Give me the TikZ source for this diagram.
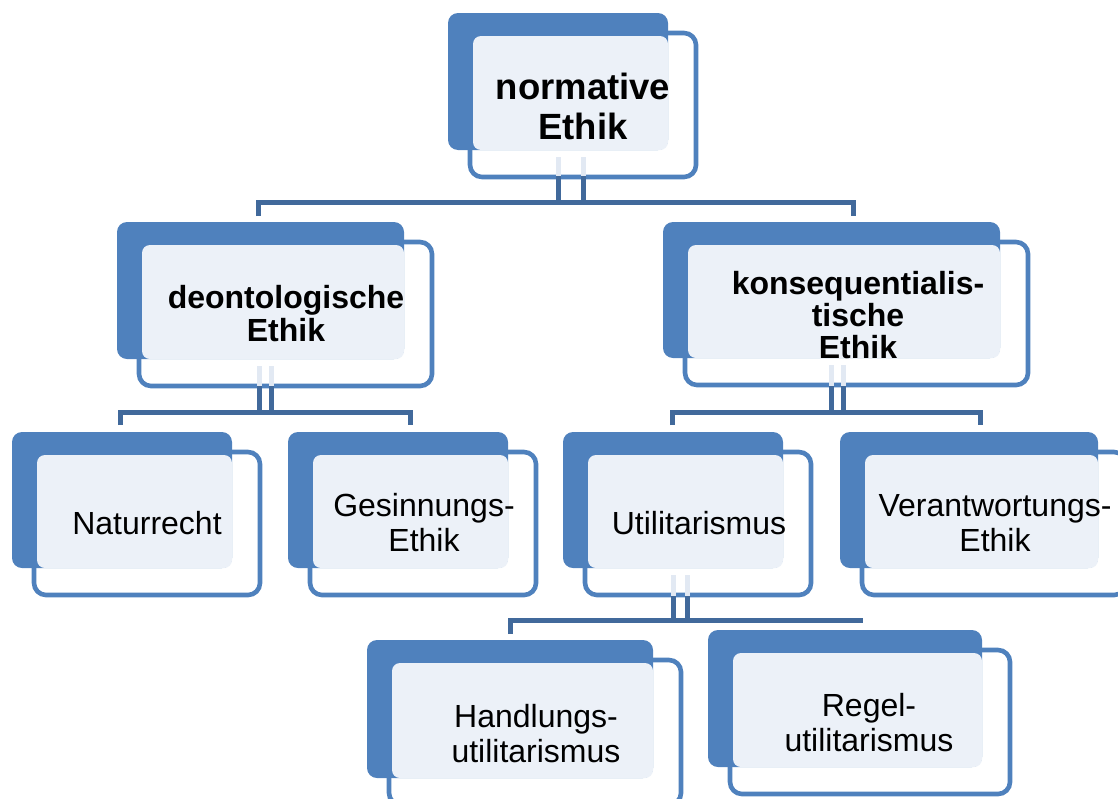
\documentclass[tikz,border=0pt]{standalone}
\usepackage{fontspec}
\setmainfont{Liberation Sans}
\usetikzlibrary{fit}
\definecolor{bb}{HTML}{4F81BD}
\definecolor{lf}{HTML}{ECF1F8}
\definecolor{cc}{HTML}{41699B}
\definecolor{fc}{HTML}{E2E9F3}
\tikzset{
  backbox/.style={fill=bb, draw=none, rounded corners=10pt, inner sep=0pt, outer sep=0pt},
  frontbox/.style={fill=white, draw=bb, line width=4.6pt, rounded corners=12pt, inner sep=0pt, outer sep=0pt},
  lightbox/.style={fill=lf, draw=none, rounded corners=8pt, inner sep=0pt, outer sep=0pt},
  conn/.style={draw=cc, line width=5pt},
  faint/.style={draw=fc, line width=5pt},
  boldtxt/.style={align=center, font=\bfseries\fontsize{32}{33}\selectfont, inner sep=0pt},
  regtxt/.style={align=center, font=\fontsize{32}{35}\selectfont, inner sep=0pt},
}
\newcommand\ebox[5]{%
  \node[frontbox, fit={(#2+22,#3+20) (#4+28,#5+27)}] (#1f) {};
  \node[backbox, fit={(#2,#3) (#4,#5)}] (#1b) {};
  \node[lightbox, fit={(#2+25,#3+23) (#4,#5)}] (#1l) {};
}
\begin{document}
\begin{tikzpicture}[x=1pt, y=-1pt]
\useasboundingbox (0,0) rectangle (1118,798);
% boxes
\ebox{n0}{448}{13}{668}{150}
\ebox{d}{117}{222}{404}{359}
\ebox{k}{663}{222}{1000}{358}
\ebox{nr}{12}{432}{232}{568}
\ebox{ge}{288}{432}{508}{568}
\ebox{ut}{563}{432}{783}{568}
\ebox{ve}{840}{432}{1098}{568}
\ebox{ha}{367}{640}{653}{778}
\ebox{re}{708}{630}{982}{767}
% texts
\node[boldtxt, font=\bfseries\fontsize{36.5}{40}\selectfont] (n0) at (583,106) {normative\\Ethik};
\node[boldtxt] (d) at (286,314) {deontologische\\Ethik};
\node[boldtxt, font=\bfseries\fontsize{32}{32}\selectfont] (k) at (858,315) {konsequentialis-\\tische\\Ethik};
\node[regtxt] (nr) at (147,523) {Naturrecht};
\node[regtxt] (ge) at (424,523) {Gesinnungs-\\Ethik};
\node[regtxt] (ut) at (699,523) {Utilitarismus};
\node[regtxt] (ve) at (995,523) {Verantwortungs-\\Ethik};
\node[regtxt] (ha) at (536,734) {Handlungs-\\utilitarismus};
\node[regtxt] (re) at (869,723) {Regel-\\utilitarismus};
% connector junctions
\coordinate (n0a) at (558,176); \coordinate (n0c) at (583,176);
\coordinate (da) at (259,386); \coordinate (dc) at (271,386);
\coordinate (ka) at (831,386); \coordinate (kc) at (843,386);
\coordinate (uta) at (673,596); \coordinate (utc) at (687,596);
\coordinate (din) at (258,216); \coordinate (kin) at (853,216);
\coordinate (nrin) at (120,425); \coordinate (gein) at (410,425);
\coordinate (utin) at (672,425); \coordinate (vein) at (980,425);
\coordinate (hain) at (510,634); \coordinate (rein) at (860,623);
% faint parts inside front boxes
\draw[faint] (558,157) -- (n0a) (583,157) -- (n0c);
\draw[faint] (259,366) -- (da) (271,366) -- (dc);
\draw[faint] (831,365) -- (ka) (843,365) -- (kc);
\draw[faint] (673,575) -- (uta) (687,575) -- (utc);
% connectors
\draw[conn] (n0a) -- (558,202) (n0c) -- (583,202);
\draw[conn] (din) |- (kin |- 0,202) -- (kin);
\draw[conn] (da) -- (259,412) (dc) -- (271,412);
\draw[conn] (nrin) |- (gein |- 0,412) -- (gein);
\draw[conn] (ka) -- (831,412) (kc) -- (843,412);
\draw[conn] (utin) |- (vein |- 0,412) -- (vein);
\draw[conn] (uta) -- (673,620) (utc) -- (687,620);
\draw[conn] (hain) |- (rein |- 0,620) -- (rein);
\end{tikzpicture}
\end{document}
